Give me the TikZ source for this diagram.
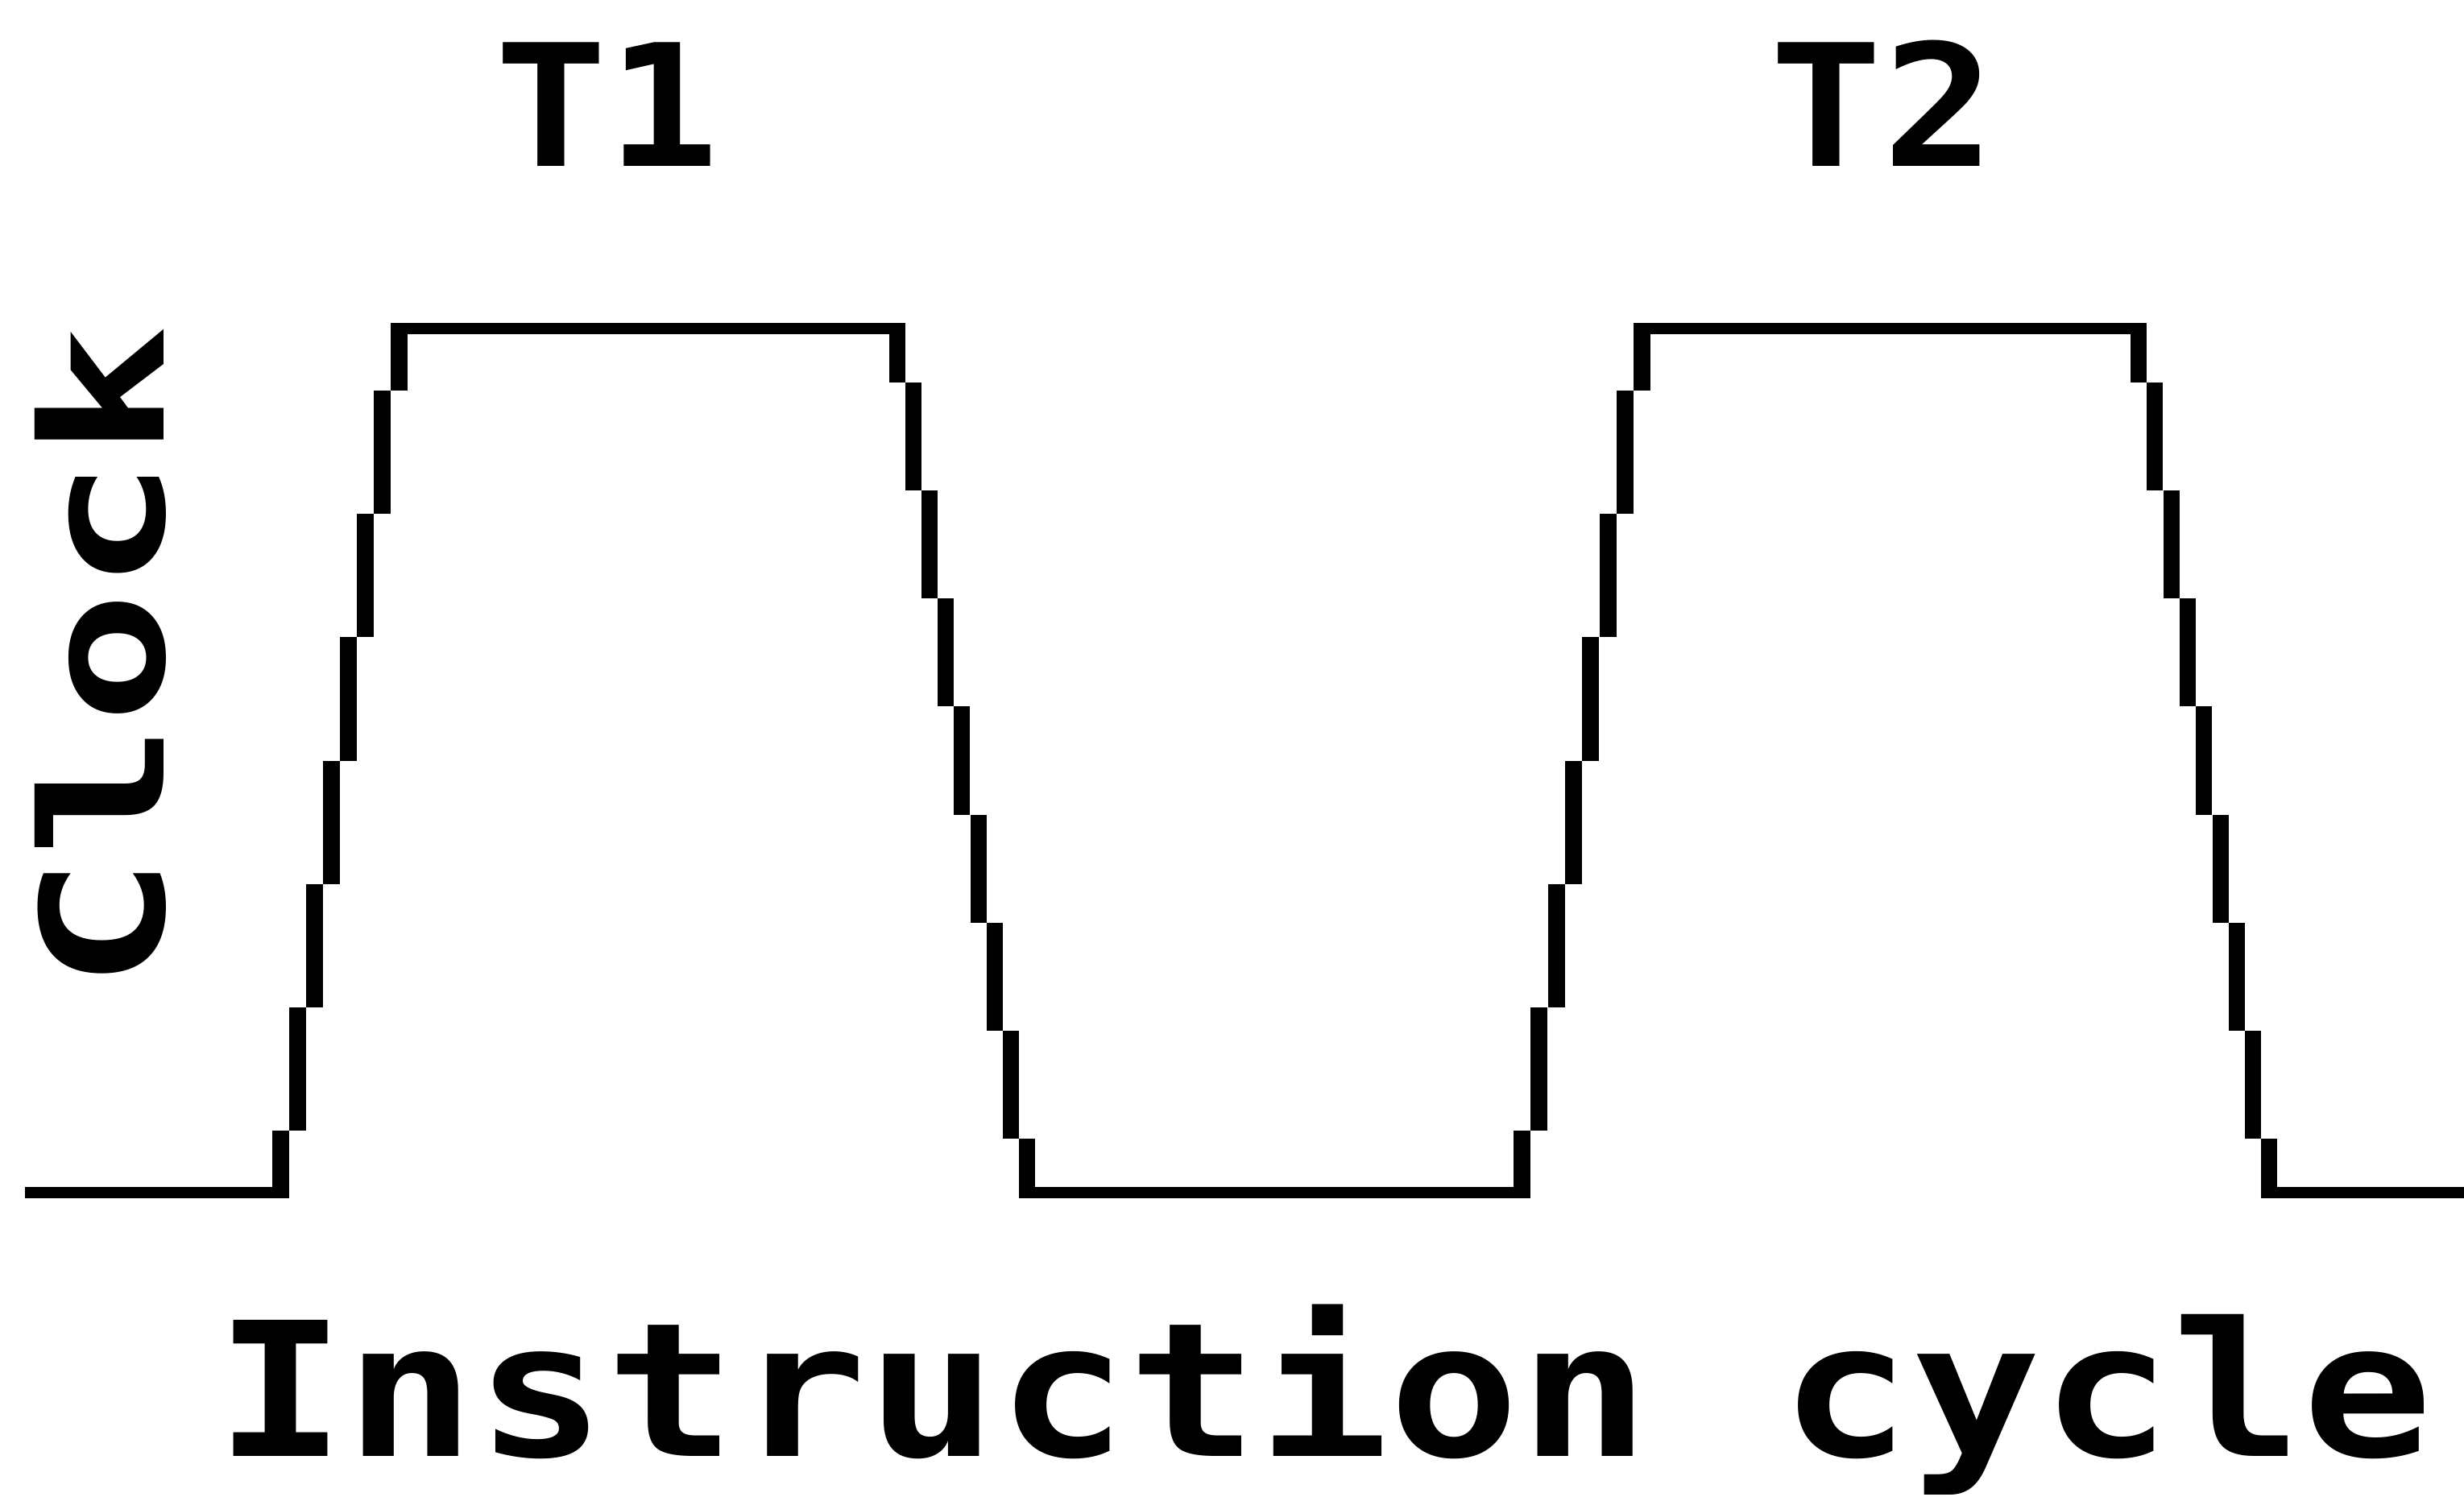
\documentclass[tikz,border=0pt]{standalone}
\usepackage{fontspec}
\setmonofont{DejaVu Sans Mono}

\tikzset{
  level/.style ={line width=0.14cm},
  pixfont/.style={font=\ttfamily\bfseries\fontsize{#1}{#1}\selectfont, inner sep=0pt, anchor=base},
}

% staircase edges: #1 = left x of first step, #2 = shift per step
\newcommand{\riseedge}[2]{%
  \foreach \i/\a/\b in {0/0/1,1/1/3,2/3/5,3/5/7,4/7/9,5/9/11,6/11/13,7/13/14}
    \fill (#1+\i*#2, 3.77+\a*0.7664) rectangle ++(0.21, {(\b-\a)*0.7664});}
\newcommand{\falledge}[2]{%
  \foreach \i/\a/\b in {0/0/1,1/1/3,2/3/5,3/5/7,4/7/9,5/9/11,6/11/13,7/13/15,8/15/16}
    \fill (#1+\i*#2, 14.50-\a*0.6706) rectangle ++(0.20, {-(\b-\a)*0.6706});}

\begin{document}
\begin{tikzpicture}
  \useasboundingbox (0,0) rectangle (30.59,18.58);
  \node[pixfont=60, xscale=1.1] (t1) at (7.54, 16.51) {T1};
  \node[pixfont=60, xscale=1.1] (t2) at (23.37, 16.51) {T2};
  \node[pixfont=60, rotate=90, xscale=1.3] (clk) at (2.03, 10.41) {Clock};
  \node[pixfont=66, xscale=1.16] (cyc) at (16.44, 0.50) {Instruction cycle};
  % level corners
  \coordinate (l0) at (0.31, 3.77);
  \coordinate (l1) at (3.59, 3.77);
  \coordinate (h0) at (4.85, 14.50);
  \coordinate (h1) at (11.24, 14.50);
  \coordinate (l2) at (12.65, 3.77);
  \coordinate (l3) at (19.00, 3.77);
  \coordinate (h2) at (20.28, 14.50);
  \coordinate (h3) at (26.65, 14.50);
  \coordinate (l4) at (28.07, 3.77);
  \coordinate (l5) at (30.59, 3.77);
  \draw[level] (l0) -- (l1);
  \draw[level] (h0) -- (h1);
  \draw[level] (l2) -- (l3);
  \draw[level] (h2) -- (h3);
  \draw[level] (l4) -- (l5);
  % edges
  \riseedge{3.38}{0.21}
  \falledge{11.04}{0.201}
  \riseedge{18.79}{0.213}
  \falledge{26.45}{0.203}
\end{tikzpicture}
\end{document}
